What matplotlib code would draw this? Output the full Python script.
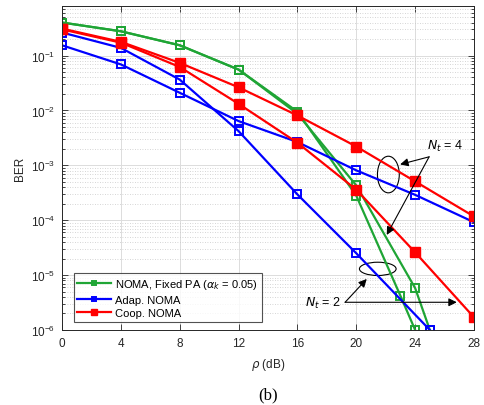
import numpy as np
import matplotlib
matplotlib.use("Agg")
import matplotlib.pyplot as plt
from matplotlib.patches import Ellipse

plt.rcParams['font.family'] = ['Liberation Sans', 'DejaVu Sans']

# NOMA, Fixed PA (two antenna settings)
fixed_x_a = [0, 4, 8, 12, 16, 20, 23, 24]
fixed_y_a = [0.40, 0.277, 0.154, 0.0555, 0.0095, 2.8e-4, 4.2e-6, 1e-6]
fixed_x_b = [0, 4, 8, 12, 16, 20, 24, 25]
fixed_y_b = [0.40, 0.277, 0.154, 0.0555, 0.0087, 4.3e-4, 5.8e-6, 1e-6]

# Adaptive NOMA
adap_x_2 = [0, 4, 8, 12, 16, 20, 25]
adap_y_2 = [0.263, 0.138, 0.0365, 0.0042, 2.95e-4, 2.5e-5, 1e-6]
adap_x_4 = [0, 4, 8, 12, 16, 20, 24, 28]
adap_y_4 = [0.154, 0.069, 0.021, 0.0064, 0.00266, 8.1e-4, 2.9e-4, 9.2e-5]

# Cooperative NOMA
coop_x = [0, 4, 8, 12, 16, 20, 24, 28]
coop_y_2 = [0.30, 0.172, 0.062, 0.0132, 0.00258, 3.6e-4, 2.6e-5, 1.7e-6]
coop_y_4 = [0.31, 0.178, 0.0736, 0.0264, 0.0081, 0.0022, 5.1e-4, 1.17e-4]

green = '#1fa535'
blue = '#0000ff'
red = '#ff0000'
dark = '#262626'

fig = plt.figure(figsize=(4.84, 4.06), dpi=100)
ax = fig.add_axes([62 / 484, 1 - 331 / 406, 412 / 484, 324 / 406])

lw = 1.6
hollow = dict(marker='s', markersize=6, markerfacecolor='none', markeredgewidth=1.4)
ax.plot(fixed_x_a, fixed_y_a, color=green, lw=lw, markeredgecolor=green, **hollow,
        label=r'NOMA, Fixed PA ($\alpha_k$ = 0.05)')
ax.plot(fixed_x_b, fixed_y_b, color=green, lw=lw, markeredgecolor=green, **hollow)
ax.plot(adap_x_2, adap_y_2, color=blue, lw=lw, markeredgecolor=blue, **hollow,
        label='Adap. NOMA')
ax.plot(adap_x_4, adap_y_4, color=blue, lw=lw, markeredgecolor=blue, **hollow)
ax.plot(coop_x, coop_y_2, color=red, lw=lw, marker='s', markersize=7.5,
        markerfacecolor=red, markeredgecolor=red, label='Coop. NOMA')
ax.plot(coop_x, coop_y_4, color=red, lw=lw, marker='s', markersize=7.5,
        markerfacecolor=red, markeredgecolor=red)

ax.set_yscale('log')
ax.set_xlim(0, 28)
ax.set_ylim(1e-6, 0.8)
ax.set_xticks(np.arange(0, 29, 4))
ax.set_yticks([1e-6, 1e-5, 1e-4, 1e-3, 1e-2, 1e-1])
ax.tick_params(which='both', direction='in', top=True, right=True, labelsize=8.5,
               colors=dark, width=0.6, pad=5)
ax.tick_params(which='major', length=4)
ax.tick_params(which='minor', length=2)
ax.grid(which='major', color='#dcdcdc', lw=0.7)
ax.grid(which='minor', color='#c8c8c8', lw=0.6, linestyle=(0, (1, 2)))
ax.set_axisbelow(True)
for s in ax.spines.values():
    s.set_color(dark)
    s.set_linewidth(0.7)

ax.set_xlabel(r'$\rho$ (dB)', fontsize=8.5, color=dark, labelpad=5)
ax.set_ylabel('BER', fontsize=8.5, color=dark, labelpad=3)

leg = ax.legend(loc='lower left', bbox_to_anchor=(0.028, 0.025), fontsize=8,
                frameon=True, fancybox=False, edgecolor=dark, handlelength=3.0,
                borderpad=0.35, labelspacing=0.3, handletextpad=0.4,
                markerscale=0.6, borderaxespad=0)
leg.get_frame().set_linewidth(0.8)


def to_axes(x, y):
    lo, hi = np.log10(1e-6), np.log10(0.8)
    return x / 28.0, (np.log10(y) - lo) / (hi - lo)


# N_t = 4 annotation
ax.add_patch(Ellipse(to_axes(22.18, 6.8e-4), 0.053, 0.113, transform=ax.transAxes,
                     fill=False, edgecolor='k', lw=0.8))
ax.text(24.8, 2.3e-3, r'$N_t$ = 4', fontsize=9, ha='left', va='center')
for hx, hy in [(22.98, 1.04e-3), (22.07, 5.4e-5)]:
    ax.annotate('', xy=(hx, hy), xytext=(24.95, 1.43e-3),
                arrowprops=dict(arrowstyle='-|>', color='k', lw=0.8,
                                mutation_scale=12, shrinkA=0, shrinkB=0))

# N_t = 2 annotation
ax.add_patch(Ellipse(to_axes(21.46, 1.3e-5), 0.089, 0.041, transform=ax.transAxes,
                     fill=False, edgecolor='k', lw=0.8))
ax.text(16.5, 3.2e-6, r'$N_t$ = 2', fontsize=9, ha='left', va='center')
for hx, hy in [(20.71, 8.5e-6), (26.83, 3.2e-6)]:
    ax.annotate('', xy=(hx, hy), xytext=(19.24, 3.2e-6),
                arrowprops=dict(arrowstyle='-|>', color='k', lw=0.8,
                                mutation_scale=12, shrinkA=0, shrinkB=0))

fig.text(268 / 484, 1 - 395 / 406, '(b)', fontsize=12, ha='center', va='center',
         family='Liberation Serif')

fig.savefig('out.png', dpi=100)
